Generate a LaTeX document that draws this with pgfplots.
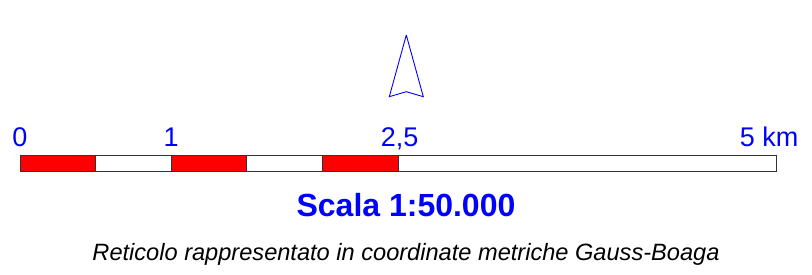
\documentclass[border=0pt]{standalone}
\usepackage{fontspec}
\setmainfont{Liberation Sans}
\usepackage{pgfplots}
\pgfplotsset{compat=1.18}
\begin{document}
\begin{tikzpicture}
\begin{axis}[scale only axis, width=812pt, height=274pt,
  xmin=-0.132275, xmax=5.238095, ymin=-274, ymax=0,
  hide axis, clip=false]
\path (rel axis cs:0,0) rectangle (rel axis cs:1,1);
% scale bar segments (km, pixel rows)
\addplot[fill=white, draw=black!80, line width=0.9pt] coordinates {(2.5,-155) (5,-155) (5,-171) (2.5,-171) (2.5,-155)};
\addplot[fill=white, draw=black!80, line width=0.9pt] coordinates {(0.5,-155) (1,-155) (1,-171) (0.5,-171) (0.5,-155)};
\addplot[fill=white, draw=black!80, line width=0.9pt] coordinates {(1.5,-155) (2,-155) (2,-171) (1.5,-171) (1.5,-155)};
\addplot[fill=red, draw=black!80, line width=0.9pt] coordinates {(0,-155) (0.5,-155) (0.5,-171) (0,-171) (0,-155)};
\addplot[fill=red, draw=black!80, line width=0.9pt] coordinates {(1,-155) (1.5,-155) (1.5,-171) (1,-171) (1,-155)};
\addplot[fill=red, draw=black!80, line width=0.9pt] coordinates {(2,-155) (2.5,-155) (2.5,-171) (2,-171) (2,-155)};
% north arrow
\addplot[blue, line width=0.9pt, line join=miter] coordinates {(2.5549,-35) (2.6673,-96.7) (2.5549,-91.7) (2.4425,-96.7) (2.5549,-35)};
% labels
\node[anchor=base, text=blue, font=\fontsize{27}{30}\selectfont] at (axis cs:0,-146) {0};
\node[anchor=base, text=blue, font=\fontsize{27}{30}\selectfont] at (axis cs:1,-146) {1};
\node[anchor=base, text=blue, font=\fontsize{27}{30}\selectfont] at (axis cs:2.5106,-146) {2,5};
\node[anchor=base, text=blue, font=\fontsize{27}{30}\selectfont] at (axis cs:4.954,-146) {5 km};
\node[anchor=base, text=blue, font=\bfseries\fontsize{32}{36}\selectfont] at (axis cs:2.5529,-216) {Scala 1:50.000};
\node[anchor=base, text=black, font=\itshape\fontsize{23.6}{26}\selectfont] at (axis cs:2.5529,-260) {Reticolo rappresentato in coordinate metriche Gauss-Boaga};
\end{axis}
\end{tikzpicture}
\end{document}
